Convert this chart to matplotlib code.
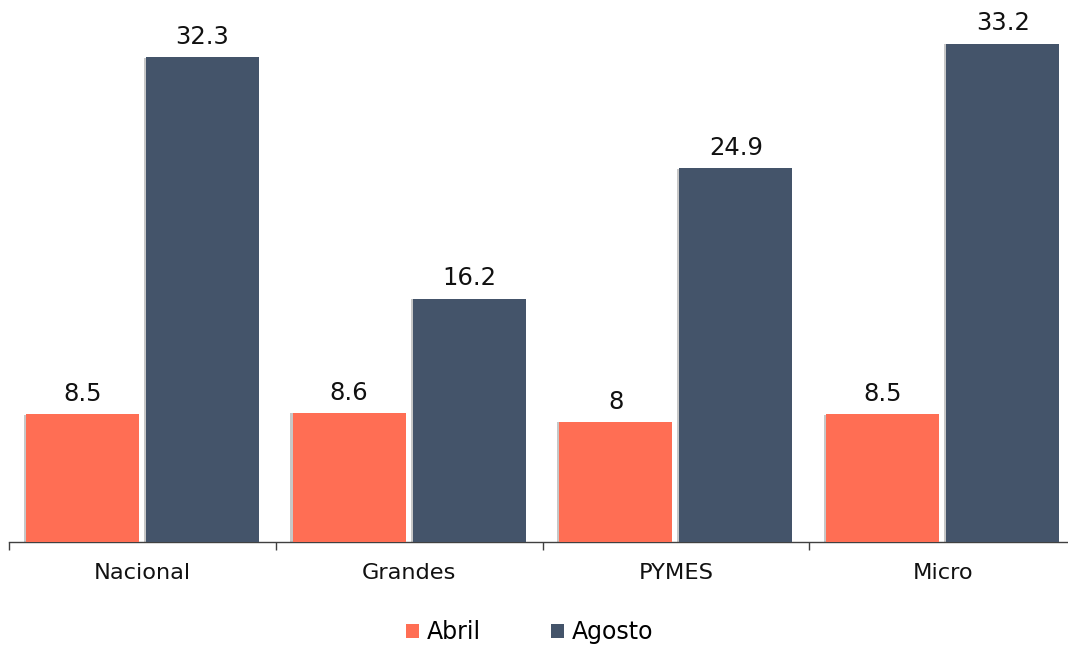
import numpy as np
import matplotlib.pyplot as plt
import matplotlib.patheffects as pe

# data
categories = ['Nacional', 'Grandes', 'PYMES', 'Micro']
abril = [8.5, 8.6, 8, 8.5]
agosto = [32.3, 16.2, 24.9, 33.2]
abril_labels = ['8.5', '8.6', '8', '8.5']
agosto_labels = ['32.3', '16.2', '24.9', '33.2']

col_abril = '#FF6E54'
col_agosto = '#44546A'

plt.rc('font', family='DejaVu Sans', size=16)

fig = plt.figure(figsize=(10.68, 6.46), dpi=100)
ax = fig.add_axes([9 / 1068, 104 / 646, 1067 / 1068, 542 / 646])

x = np.arange(len(categories))
w = 0.423
off = 0.225

# soft shadow on the left edge of each bar
shadow = [pe.SimplePatchShadow(offset=(-1.6, -0.4), shadow_rgbFace='#000000', alpha=0.22),
          pe.Normal()]

b1 = ax.bar(x - off, abril, w, color=col_abril, label='Abril', zorder=3)
b2 = ax.bar(x + off, agosto, w, color=col_agosto, label='Agosto', zorder=3)
for r in list(b1) + list(b2):
    r.set_path_effects(shadow)

for bars, labs in ((b1, abril_labels), (b2, agosto_labels)):
    for r, t in zip(bars, labs):
        ax.annotate(t, (r.get_x() + r.get_width() / 2, r.get_height()),
                    xytext=(0, 6), textcoords='offset points',
                    ha='center', va='bottom', fontsize=17.5, color='#111111')

ax.set_xlim(-0.5, len(categories) - 0.5)
ax.set_ylim(0, 36.1)
ax.set_yticks([])
for s in ['left', 'right', 'top']:
    ax.spines[s].set_visible(False)
ax.spines['bottom'].set_color('#404040')
ax.spines['bottom'].set_linewidth(1)

ax.set_xticks(x, labels=categories)
ax.tick_params(axis='x', which='major', length=0, pad=15, labelsize=16.2, labelcolor='#111111')
ax.set_xticks(np.arange(len(categories) + 1) - 0.5, minor=True)
ax.tick_params(axis='x', which='minor', length=6, width=1, color='#404040', direction='out')

leg = ax.legend(loc='center', bbox_to_anchor=(0.488, -0.166), ncol=2, frameon=False,
                fontsize=17, handlelength=0.55, handleheight=0.55, handletextpad=0.3,
                columnspacing=3.0)
for h in leg.legend_handles:
    h.set_path_effects([])

fig.savefig('out.png', dpi=100)
